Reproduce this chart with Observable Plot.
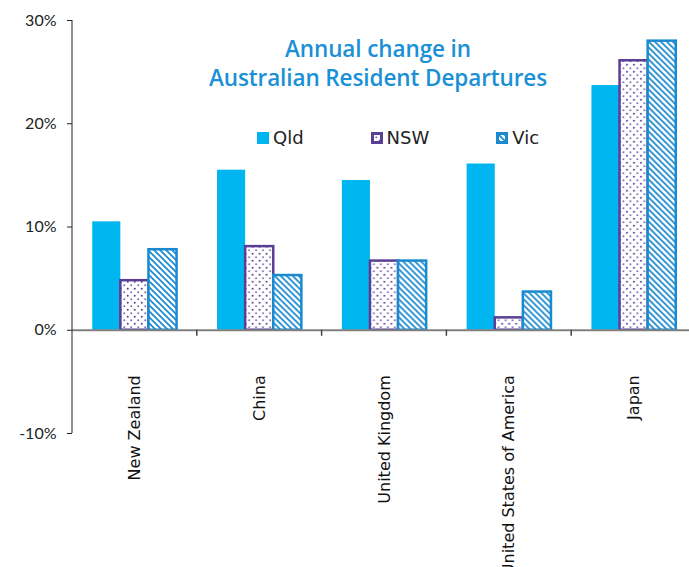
<!DOCTYPE html>
<html>
<head>
<meta charset="utf-8">
<script src="https://cdn.jsdelivr.net/npm/d3@7"></script>
<script src="https://cdn.jsdelivr.net/npm/@observablehq/plot@0.6"></script>
<style>
  body { margin: 0; background: #fff; }
  #wrap { position: relative; width: 689px; height: 567px; overflow: hidden; background: #fff; }
  #title { position: absolute; left: 0; top: 34px; width: 756px; text-align: center;
           font-family: "Open Sans", sans-serif; font-weight: 600; font-size: 22.5px; line-height: 29px;
           color: #1a90d6; letter-spacing: -0.1px; }
  #legend { position: absolute; left: 257px; top: 127px; display: flex; gap: 67px;
            font-family: "DejaVu Sans", sans-serif; font-size: 18px; color: #222; }
  .item { display: flex; align-items: center; }
  .item svg { margin-right: 4px; }
  #chart svg .cat text { font-family: "DejaVu Sans", sans-serif; }
</style>
</head>
<body>
<div id="wrap">
  <div id="chart"></div>
  <div id="title">Annual change in<br>Australian Resident Departures</div>
  <div id="legend"></div>
</div>
<script>
// ---- data ----
const categories = ["New Zealand", "China", "United Kingdom", "United States of America", "Japan"];
const series = ["Qld", "NSW", "Vic"];
const qld = [10.5, 15.5, 14.5, 16.1, 23.7];
const nsw = [4.8, 8.1, 6.7, 1.2, 26.1];
const vic = [7.8, 5.3, 6.7, 3.7, 28.0];
const yTicks = [-10, 0, 10, 20, 30];

const seriesValues = { Qld: qld, NSW: nsw, Vic: vic };
const table = categories.flatMap((c, i) => series.map(s => ({ country: c, state: s, value: seriesValues[s][i] })));

// ---- styles ----
const QLD = "#00b6f0", NSW = "#5b3f97", VIC = "#1a8ad0";
const ML = 72, MT = 20, MB = 134, W = 689, H = 567;

const chart = Plot.plot({
  width: W, height: H,
  marginLeft: ML, marginRight: -7, marginTop: MT, marginBottom: MB,
  style: { fontFamily: "Lato, sans-serif", fontSize: "16px", color: "#222", background: "transparent" },
  fx: { domain: categories, padding: 0, axis: null, round: false },
  x: { domain: series, paddingInner: 0, paddingOuter: 0.72, axis: null, round: false },
  y: { domain: [-10, 30] },
  marks: [
    Plot.axisY({ ticks: yTicks, tickFormat: d => d + "%", tickSize: 5, tickPadding: 11, label: null,
                 fontSize: 16, color: "#222" }),
    Plot.barY(table, { filter: d => d.state === "Qld", fx: "country", x: "state", y: "value", fill: QLD }),
    Plot.barY(table, { filter: d => d.state === "NSW", fx: "country", x: "state", y: "value",
                       fill: "url(#nswDots)", stroke: NSW, strokeWidth: 2.5 }),
    Plot.barY(table, { filter: d => d.state === "Vic", fx: "country", x: "state", y: "value",
                       fill: "url(#vicStripes)", stroke: VIC, strokeWidth: 2.5 }),
    Plot.ruleY([0], { stroke: "#808080", strokeWidth: 2 }),
    Plot.text(categories, { fx: d => d, text: d => d, y: 0, rotate: -90, textAnchor: "end",
                            lineAnchor: "middle", dy: 45, fontSize: 16, fontFamily: "DejaVu Sans",
                            fill: "#111", className: "cat" })
  ]
});
document.getElementById("chart").appendChild(chart);

const svg = chart.tagName.toLowerCase() === "svg" ? chart : chart.querySelector("svg");
const sel = d3.select(svg);

// patterns
const defs = sel.insert("defs", ":first-child");
const dots = defs.append("pattern").attr("id", "nswDots").attr("patternUnits", "userSpaceOnUse")
  .attr("width", 7).attr("height", 7);
dots.append("rect").attr("width", 7).attr("height", 7).attr("fill", "#fff");
dots.append("circle").attr("cx", 1.75).attr("cy", 1.75).attr("r", 1).attr("fill", NSW);
dots.append("circle").attr("cx", 5.25).attr("cy", 5.25).attr("r", 1).attr("fill", "#7f6bb8");
const stripes = defs.append("pattern").attr("id", "vicStripes").attr("patternUnits", "userSpaceOnUse")
  .attr("width", 6).attr("height", 6);
stripes.append("rect").attr("width", 6).attr("height", 6).attr("fill", "#fff");
stripes.append("path").attr("d", "M-1,-1L7,7M-1,5L1,7M5,-1L7,1").attr("stroke", VIC).attr("stroke-width", 1.7);

// axis line and category dividers from Plot's own scales
const ys = chart.scale("y"), fxs = chart.scale("fx");
const yf = ys.apply ? v => ys.apply(v) : d3.scaleLinear(ys.domain, ys.range);
const fxf = fxs.apply ? v => fxs.apply(v) : d3.scaleBand(fxs.domain, fxs.range);
const g = sel.append("g");
g.append("line").attr("x1", ML).attr("x2", ML).attr("y1", yf(yTicks[yTicks.length - 1])).attr("y2", yf(yTicks[0]))
  .attr("stroke", "#222").attr("stroke-width", 1);
categories.slice(1).forEach(c => {
  const x = fxf(c);
  g.append("line").attr("x1", x).attr("x2", x).attr("y1", yf(0)).attr("y2", yf(0) + 6)
    .attr("stroke", "#444").attr("stroke-width", 1.5);
});

// legend
const legend = d3.select("#legend");
const swatch = { NSW: { fill: "url(#nswDots)", stroke: NSW }, Vic: { fill: "url(#vicStripes)", stroke: VIC } };
series.forEach(s => {
  const it = legend.append("div").attr("class", "item");
  const sv = it.append("svg").attr("width", 12).attr("height", 12);
  if (s === "Qld") sv.append("rect").attr("width", 12).attr("height", 12).attr("fill", QLD);
  else sv.append("rect").attr("x", 1.5).attr("y", 1.5).attr("width", 9).attr("height", 9)
        .attr("fill", swatch[s].fill).attr("stroke", swatch[s].stroke).attr("stroke-width", 3);
  it.append("span").text(s);
});
</script>
</body>
</html>
